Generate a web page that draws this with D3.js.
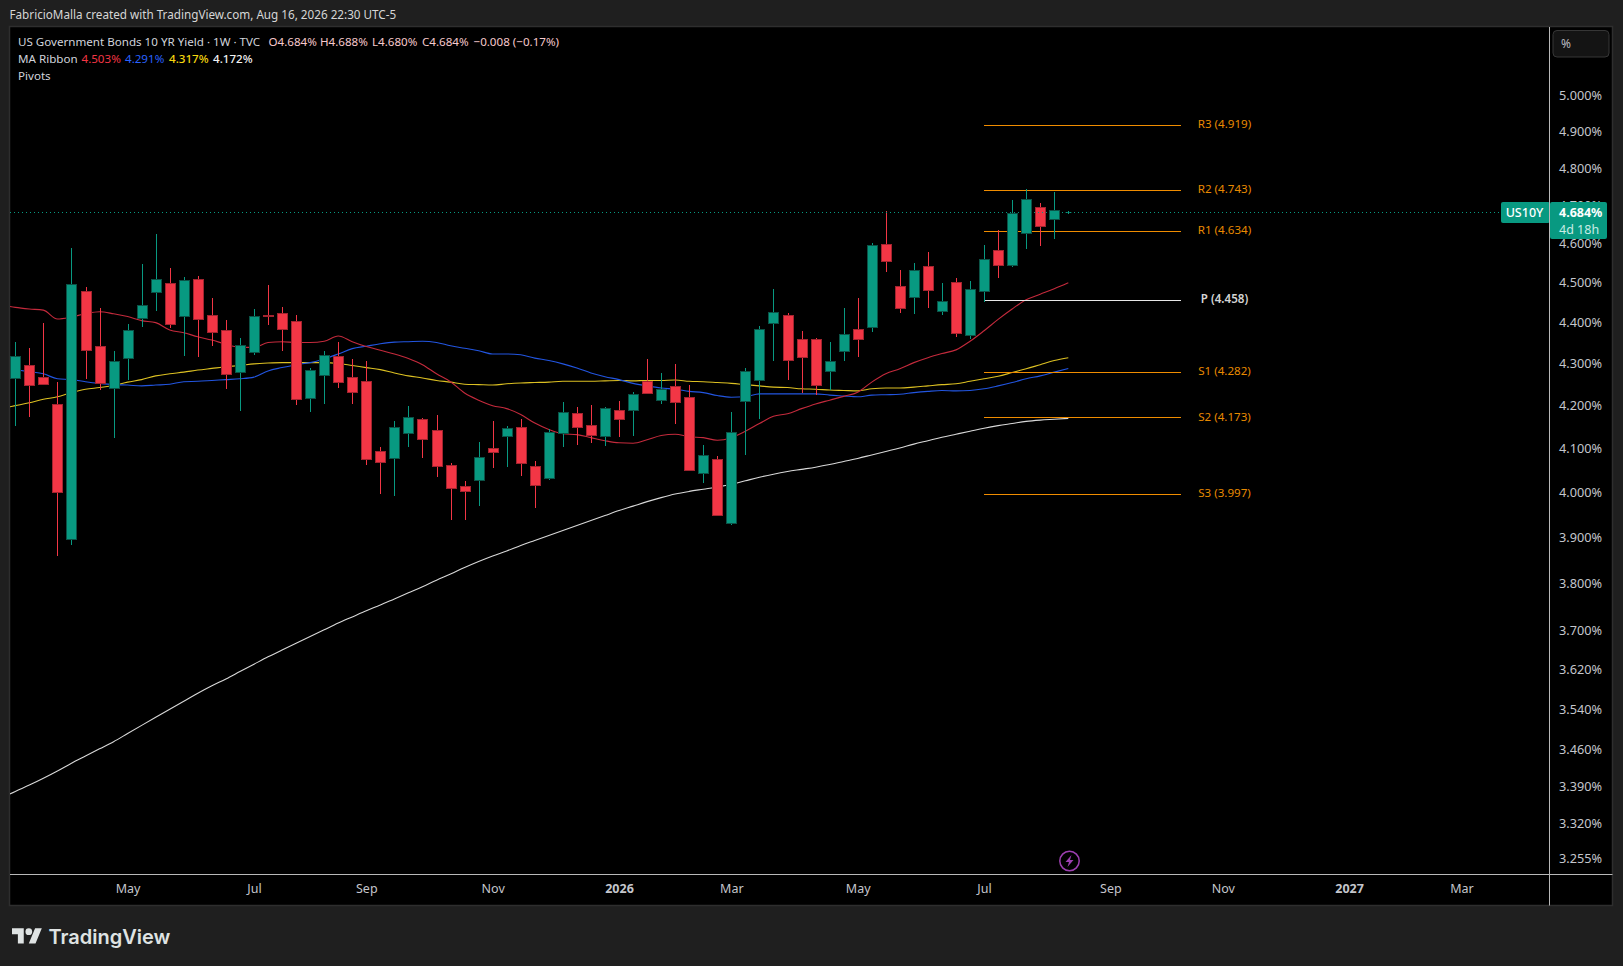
<!DOCTYPE html>
<html><head><meta charset="utf-8">
<script src="https://cdn.jsdelivr.net/npm/d3@7/dist/d3.min.js"></script>
<style>html,body{margin:0;padding:0;background:#1f1f1f;overflow:hidden}svg{display:block}text{font-family:"Noto Sans",sans-serif}</style>
</head><body><svg id="c" width="1623" height="966"></svg>
<script>
const opens=[4.268,4.299,4.270,4.206,3.898,4.482,4.345,4.244,4.316,4.414,4.479,4.502,4.419,4.512,4.422,4.385,4.282,4.330,4.422,4.427,4.407,4.220,4.275,4.321,4.270,4.261,4.096,4.080,4.138,4.171,4.145,4.064,4.016,4.030,4.103,4.131,4.152,4.062,4.034,4.138,4.185,4.156,4.131,4.192,4.192,4.261,4.215,4.249,4.222,4.046,4.078,3.934,4.213,4.263,4.402,4.422,4.362,4.362,4.285,4.333,4.387,4.392,4.602,4.495,4.467,4.545,4.432,4.505,4.372,4.482,4.586,4.549,4.632,4.699,4.667,4.684];
const highs=[4.356,4.341,4.403,4.259,4.592,4.492,4.440,4.334,4.400,4.551,4.629,4.541,4.518,4.521,4.465,4.410,4.366,4.437,4.498,4.442,4.422,4.293,4.334,4.356,4.314,4.310,4.106,4.165,4.202,4.172,4.181,4.069,4.028,4.118,4.167,4.155,4.171,4.072,4.146,4.211,4.199,4.204,4.199,4.213,4.235,4.314,4.281,4.302,4.252,4.110,4.085,4.188,4.293,4.395,4.488,4.428,4.383,4.366,4.356,4.440,4.465,4.605,4.689,4.536,4.554,4.582,4.503,4.516,4.508,4.600,4.639,4.718,4.747,4.710,4.739,4.688];
const lows=[4.155,4.176,4.252,3.862,3.886,4.266,4.238,4.127,4.264,4.393,4.432,4.390,4.322,4.319,4.346,4.242,4.190,4.324,4.398,4.334,4.204,4.188,4.206,4.245,4.206,4.065,3.999,3.994,4.105,4.081,4.036,3.939,3.939,3.972,4.056,4.059,4.038,3.966,4.029,4.105,4.110,4.114,4.107,4.128,4.132,4.231,4.205,4.160,4.050,4.022,3.948,3.928,4.087,4.171,4.310,4.264,4.233,4.228,4.239,4.310,4.319,4.381,4.531,4.427,4.425,4.440,4.422,4.368,4.363,4.455,4.516,4.544,4.589,4.597,4.616,4.680];
const closes=[4.320,4.251,4.253,4.003,4.500,4.335,4.256,4.308,4.385,4.446,4.512,4.400,4.510,4.412,4.380,4.278,4.349,4.419,4.420,4.387,4.217,4.287,4.323,4.258,4.234,4.078,4.071,4.152,4.175,4.124,4.062,4.012,4.005,4.082,4.094,4.149,4.069,4.019,4.140,4.187,4.152,4.133,4.196,4.171,4.230,4.232,4.241,4.210,4.053,4.087,3.951,4.140,4.285,4.387,4.429,4.311,4.318,4.251,4.309,4.375,4.362,4.599,4.558,4.439,4.535,4.484,4.456,4.377,4.487,4.563,4.549,4.683,4.720,4.650,4.692,4.684];
// MA series start one week before the first visible candle
const maRed=[4.447,4.441,4.437,4.434,4.412,4.417,4.425,4.430,4.425,4.418,4.408,4.403,4.385,4.378,4.368,4.360,4.350,4.342,4.342,4.354,4.356,4.354,4.354,4.357,4.370,4.356,4.344,4.335,4.326,4.315,4.300,4.278,4.259,4.232,4.215,4.202,4.195,4.181,4.161,4.146,4.136,4.134,4.127,4.120,4.115,4.114,4.122,4.132,4.135,4.129,4.127,4.121,4.127,4.142,4.160,4.177,4.183,4.195,4.206,4.215,4.224,4.234,4.258,4.278,4.290,4.305,4.317,4.327,4.336,4.357,4.383,4.411,4.437,4.460,4.474,4.488,4.503];
const maBlue=[4.293,4.288,4.283,4.278,4.266,4.264,4.259,4.255,4.252,4.251,4.249,4.251,4.253,4.259,4.260,4.262,4.264,4.266,4.270,4.285,4.293,4.300,4.305,4.314,4.326,4.339,4.345,4.351,4.355,4.356,4.357,4.354,4.346,4.340,4.334,4.326,4.326,4.324,4.316,4.310,4.302,4.292,4.280,4.271,4.264,4.255,4.249,4.244,4.241,4.236,4.233,4.226,4.222,4.223,4.230,4.230,4.230,4.230,4.230,4.227,4.225,4.223,4.227,4.228,4.229,4.233,4.236,4.238,4.237,4.238,4.242,4.249,4.257,4.266,4.273,4.282,4.291];
const maYellow=[4.195,4.202,4.209,4.217,4.223,4.233,4.241,4.245,4.250,4.258,4.264,4.273,4.278,4.282,4.287,4.291,4.295,4.298,4.302,4.304,4.305,4.305,4.305,4.305,4.303,4.298,4.293,4.288,4.280,4.273,4.268,4.262,4.258,4.253,4.252,4.251,4.254,4.256,4.257,4.258,4.260,4.260,4.260,4.261,4.262,4.261,4.262,4.262,4.263,4.260,4.259,4.257,4.255,4.252,4.249,4.246,4.245,4.242,4.241,4.239,4.238,4.237,4.242,4.244,4.244,4.246,4.249,4.252,4.254,4.260,4.266,4.272,4.281,4.290,4.300,4.310,4.317];
const maWhite=[3.369,3.382,3.394,3.407,3.421,3.436,3.450,3.464,3.478,3.494,3.510,3.526,3.542,3.558,3.574,3.589,3.603,3.618,3.633,3.648,3.662,3.676,3.690,3.704,3.718,3.731,3.744,3.756,3.769,3.782,3.795,3.809,3.822,3.836,3.849,3.861,3.872,3.884,3.895,3.906,3.917,3.928,3.939,3.950,3.961,3.971,3.981,3.990,3.998,4.004,4.009,4.014,4.020,4.028,4.036,4.043,4.049,4.054,4.059,4.065,4.072,4.079,4.087,4.095,4.103,4.112,4.120,4.128,4.135,4.142,4.149,4.155,4.160,4.165,4.168,4.170,4.172];
const pivotNames=["R3","R2","R1","P","S1","S2","S3"];
const pivotValues=[4.919,4.743,4.634,4.458,4.282,4.173,3.997];
const priceTicks=[5,4.9,4.8,4.7,4.6,4.5,4.4,4.3,4.2,4.1,4,3.9,3.8,3.7,3.62,3.54,3.46,3.39,3.32,3.255];
const timeTicks=["2025-05-05","2025-07-07","2025-09-01","2025-11-03","2026-01-05","2026-03-02","2026-05-04","2026-07-06","2026-09-07","2026-11-02","2027-01-04","2027-03-01"];
const firstWeek="2025-03-10", lastWeek="2026-08-17", lastClose=4.684;

const parse=d3.utcParse("%Y-%m-%d");
const t0=parse(firstWeek), t1=parse(lastWeek);
const weeks=opens.map((_,i)=>d3.utcDay.offset(t0,i*7));
const maWeeks=maRed.map((_,i)=>d3.utcDay.offset(t0,(i-1)*7));
const x=d3.scaleUtc().domain([t0,t1]).range([15.3,1068.3]);
const y=d3.scaleLog().domain([5,3.255]).range([96.7,859.4]);
const GREEN="#089981",RED="#f23645",GB="#0b5347",RB="#a3242f";
const L=10,R=1549.5,T=27,B=874.5,PB=905.5,PR=1612.5;
const svg=d3.select("#c");
svg.append("rect").attr("width",1623).attr("height",966).attr("fill","#1f1f1f");
svg.append("rect").attr("x",9.5).attr("y",26.5).attr("width",PR-9.5).attr("height",PB-26.5).attr("fill","#000").attr("stroke","#2e2e2e").attr("stroke-width",1.5);
svg.append("defs").append("clipPath").attr("id","pane").append("rect").attr("x",L).attr("y",T).attr("width",R-L).attr("height",B-T);
const plot=svg.append("g").attr("clip-path","url(#pane)");

// moving averages
const line=d3.line().x((_,i)=>x(maWeeks[i])).y(d=>y(d)).curve(d3.curveMonotoneX);
[[maWhite,"#d8d8d8"],[maYellow,"#dcc022"],[maBlue,"#2255e0"],[maRed,"#c42a3c"]].forEach(([s,c])=>{
  plot.append("path").datum(s).attr("d",line).attr("fill","none").attr("stroke",c).attr("stroke-width",1.1);
});

// pivots
const px0=984,px1=1181;
plot.selectAll("line.piv").data(pivotValues).join("line").attr("class","piv")
  .attr("x1",px0).attr("x2",px1).attr("y1",d=>Math.floor(y(d))+.5).attr("y2",d=>Math.floor(y(d))+.5)
  .attr("stroke",(d,i)=>pivotNames[i]==="P"?"#e8e8e8":"#f08c00").attr("stroke-width",1);
svg.selectAll("text.piv").data(pivotValues).join("text").attr("class","piv")
  .attr("x",1224.5).attr("y",d=>y(d)-1.5).attr("dy",".35em").attr("text-anchor","middle")
  .attr("font-size",11.6).attr("fill",(d,i)=>pivotNames[i]==="P"?"#d4d4d4":"#e88a00")
  .attr("font-weight",(d,i)=>pivotNames[i]==="P"?600:400)
  .text((d,i)=>`${pivotNames[i]} (${d3.format(".3f")(d)})`);

// candles
const cx=i=>Math.round(x(weeks[i]))+.5;
const idx=d3.range(opens.length);
const col=i=>closes[i]>=opens[i]?GREEN:RED;
plot.selectAll("line.wick").data(idx).join("line").attr("class","wick")
  .attr("x1",cx).attr("x2",cx).attr("y1",i=>y(highs[i])).attr("y2",i=>y(lows[i]))
  .attr("stroke",col).attr("stroke-width",1).attr("shape-rendering","crispEdges");
plot.selectAll("rect.body").data(idx.slice(0,75)).join("rect").attr("class","body")
  .attr("x",i=>cx(i)-5).attr("width",10)
  .attr("y",i=>Math.round(y(Math.max(opens[i],closes[i])))+.5)
  .attr("height",i=>Math.max(1,Math.round(y(Math.min(opens[i],closes[i])))-Math.round(y(Math.max(opens[i],closes[i])))))
  .attr("fill",col).attr("stroke",i=>closes[i]>=opens[i]?GB:RB).attr("stroke-width",1).attr("shape-rendering","crispEdges");
plot.append("line").attr("x1",cx(75)-3).attr("x2",cx(75)+3).attr("y1",Math.floor(y(closes[75]))+.5).attr("y2",Math.floor(y(closes[75]))+.5).attr("stroke",GREEN).attr("stroke-opacity",.7);

// last price line
svg.append("line").attr("x1",L).attr("x2",R).attr("y1",Math.floor(y(lastClose))+.5).attr("y2",Math.floor(y(lastClose))+.5)
  .attr("stroke",GREEN).attr("stroke-dasharray","1 3").attr("stroke-width",1).attr("shape-rendering","crispEdges");

// axes
const AXC="#b9b9b9",TXT="#c4c6cc";
const yAxis=svg.append("g").attr("transform",`translate(1559,-1)`)
  .call(d3.axisRight(y).tickValues(priceTicks).tickSize(0).tickPadding(0).tickFormat(d=>d3.format(".3f")(d)+"%"));
const xAxis=svg.append("g").attr("transform",`translate(0,${B})`)
  .call(d3.axisBottom(x).tickValues(timeTicks.map(parse)).tickSize(0).tickPadding(10)
    .tickFormat(d=>d.getUTCMonth()===0?d3.utcFormat("%Y")(d):d3.utcFormat("%b")(d)));
yAxis.select(".domain").remove();xAxis.select(".domain").remove();
yAxis.selectAll("text").attr("font-size",12.7).attr("fill",TXT).attr("font-family",'"Noto Sans",sans-serif');
xAxis.selectAll("text").attr("font-size",12.5).attr("fill",TXT).attr("font-family",'"Noto Sans",sans-serif')
  .attr("font-weight",d=>d.getUTCMonth()===0?700:400);
svg.append("line").attr("x1",L).attr("x2",PR).attr("y1",B).attr("y2",B).attr("stroke",AXC);
svg.append("line").attr("x1",R).attr("x2",R).attr("y1",T).attr("y2",PB).attr("stroke",AXC);

// unit button
svg.append("rect").attr("x",1553).attr("y",30.5).attr("width",56).attr("height",26.5).attr("rx",4).attr("fill","#141414").attr("stroke","#363636");
svg.append("text").attr("x",1561).attr("y",48).attr("font-size",12).attr("fill","#b8bac0").text("%");

// price tag
svg.append("rect").attr("x",1501).attr("y",202).attr("width",49).attr("height",21).attr("rx",2).attr("fill",GREEN);
svg.append("rect").attr("x",1550).attr("y",202).attr("width",57).attr("height",37).attr("rx",2).attr("fill",GREEN);
svg.append("line").attr("x1",R).attr("x2",R).attr("y1",202).attr("y2",223).attr("stroke",AXC);
svg.append("text").attr("x",1524.5).attr("y",217).attr("text-anchor","middle").attr("font-size",12.5).attr("font-weight",500).attr("fill","#fff").text("US10Y");
svg.append("text").attr("x",1559).attr("y",217).attr("font-size",12.5).attr("font-weight",700).attr("fill","#fff").text(d3.format(".3f")(lastClose)+"%");
svg.append("text").attr("x",1559).attr("y",234).attr("font-size",12.5).attr("fill","#c9ece5").text("4d 18h");

// headers
const txt=(x,y,s,c,o={})=>svg.append("text").attr("x",x).attr("y",y).attr("font-size",o.fs||11.6).attr("fill",c).attr("font-weight",o.fw||400).text(s);
txt(9.5,19,"FabricioMalla created with TradingView.com, Aug 16, 2026 22:30 UTC-5","#d6d6d6",{fs:11.7});
const HC="#d1d4dc",PK="#f7c9cd";
txt(18,46,"US Government Bonds 10 YR Yield · 1W · TVC",HC);
[[268.5,"O4.684%"],[320,"H4.688%"],[372,"L4.680%"],[422,"C4.684%"],[473.5,"−0.008 (−0.17%)"]].forEach(([a,s])=>txt(a,46,s,PK));
txt(18,63,"MA Ribbon",HC);
[[81.5,"4.503%",RED,400],[125,"4.291%","#2962ff",400],[169,"4.317%","#f5d60e",500],[213,"4.172%","#f2f2f2",500]].forEach(([a,s,c,w])=>txt(a,63,s,c,{fw:w}));
txt(18,80,"Pivots",HC);

// logo
const logo=svg.append("g").attr("transform","translate(12,925) scale(.84)").attr("fill","#dfe3e3");
logo.append("path").attr("d","M14 22H7V11H0V4h14v18zM28 22h-8l7.5-18h8L28 22z");
logo.append("circle").attr("cx",20).attr("cy",8).attr("r",4);
svg.append("text").attr("x",48.5).attr("y",943.5).attr("font-size",20).attr("font-weight",600).attr("fill","#dfe3e3").style("font-family","Inter").text("TradingView");

// flash icon
const icon=svg.append("g").attr("transform","translate(1069.5,861)");
icon.append("circle").attr("r",9.7).attr("fill","none").attr("stroke","#9c3fb0").attr("stroke-width",1.5);
icon.append("path").attr("d","M2-6 L-4 1 H-.5 L-2 6 L4-1 H.5 Z").attr("fill","#9c3fb0");
</script></body></html>
